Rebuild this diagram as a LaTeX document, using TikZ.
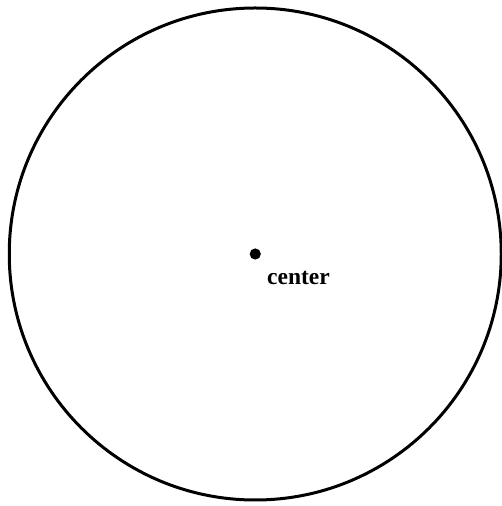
\documentclass[tikz,border=0pt]{standalone}
\usepackage{fontspec}
\setmainfont{Liberation Serif}
\usepackage{tikz}
\usetikzlibrary{positioning}

\begin{document}
\begin{tikzpicture}[x=1pt,y=1pt]
  \useasboundingbox (0,0) rectangle (502,506);
  \coordinate (center) at (255.25,252);
  \draw[line width=3pt] (center) circle (246);
  \fill (center) circle (5.6); \node[inner sep=0pt] (lbl) at (298.5,227.5){\fontsize{23.5}{28}\selectfont\bfseries center};
\end{tikzpicture}
\end{document}
